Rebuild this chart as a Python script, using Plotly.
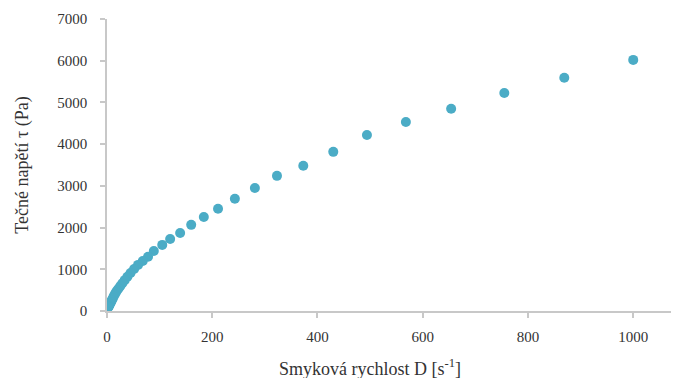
import plotly.graph_objects as go

shear_rate = [1000, 869, 755, 654, 568, 494, 430, 373, 323, 281, 243, 211, 184, 160,
              139, 120, 105, 89, 78, 68, 59, 51.5, 44.7, 38.8, 33.7, 29.2, 25.4, 22.0,
              19.1, 16.6, 14.4, 12.5, 10.9, 9.4, 8.2, 7.1, 6.2, 5.4, 4.6, 4.0, 3.5, 3.0,
              2.6, 2.3, 2.0]
shear_stress = [6020, 5590, 5225, 4850, 4530, 4220, 3815, 3480, 3240, 2950, 2690, 2450,
                2255, 2065, 1870, 1725, 1585, 1440, 1300, 1200, 1105, 1005, 910, 820,
                740, 665, 600, 540, 490, 440, 390, 345, 300, 265, 235, 205, 185, 165,
                148, 133, 120, 110, 100, 92, 85]

x_ticks = [0, 200, 400, 600, 800, 1000]
y_ticks = [0, 1000, 2000, 3000, 4000, 5000, 6000, 7000]

FONT = "Liberation Serif, DejaVu Serif, serif"
GREY = "#C8C8C8"
TEXT = "#333333"

fig = go.Figure(go.Scatter(
    x=shear_rate, y=shear_stress, mode="markers",
    marker=dict(color="#4BACC6", size=10, line=dict(width=0)),
))

# page body has an 8px margin, so the figure is sized/offset to compensate
fig.update_layout(
    width=671, height=370,
    margin=dict(l=99, r=0, t=11, b=67),
    paper_bgcolor="white", plot_bgcolor="white",
    showlegend=False,
    font=dict(family=FONT, size=15, color=TEXT),
    xaxis=dict(
        range=[0, 1087], tickvals=x_ticks, showgrid=False, zeroline=False,
        showline=True, linecolor=GREY, linewidth=1.5, automargin=False,
        ticks="outside", ticklen=5, tickcolor=GREY, tickwidth=1.5,
        ticklabelstandoff=6,
        tickfont=dict(family=FONT, size=15, color=TEXT),
    ),
    yaxis=dict(
        range=[0, 7000], tickvals=y_ticks, showgrid=False, zeroline=False,
        showline=True, linecolor=GREY, linewidth=1.5, automargin=False,
        ticks="outside", ticklen=5, tickcolor=GREY, tickwidth=1.5,
        ticklabelstandoff=10,
        tickfont=dict(family=FONT, size=15, color=TEXT),
    ),
    annotations=[
        dict(text="Smyková rychlost D [s<sup>-1</sup>]", xref="paper", yref="paper",
             x=0.459, y=-0.192, xanchor="center", yanchor="middle", showarrow=False,
             font=dict(family=FONT, size=18, color=TEXT)),
        dict(text="Tečné napětí τ (Pa)", xref="paper", yref="paper",
             x=-0.149, y=0.5, xanchor="center", yanchor="middle", showarrow=False,
             textangle=-90, font=dict(family=FONT, size=18, color=TEXT)),
    ],
)

fig.write_html("out.html")
